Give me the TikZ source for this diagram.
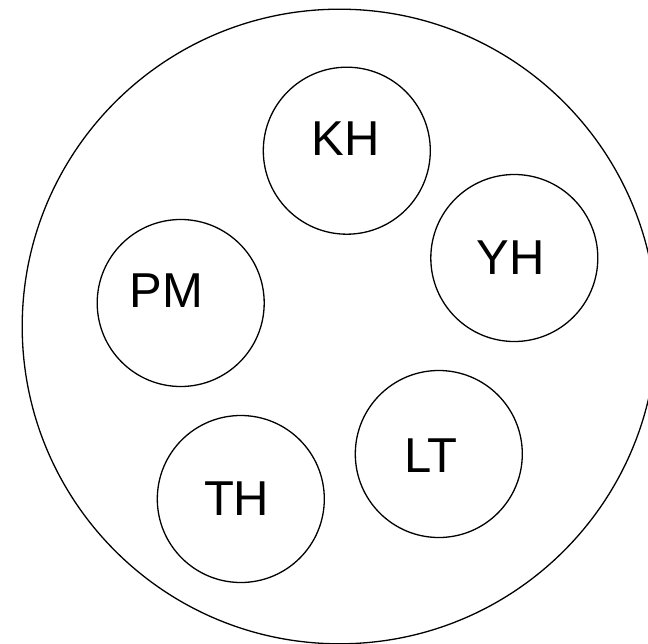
\documentclass[tikz,border=0pt]{standalone}
\usepackage{fontspec}
\setmainfont{Liberation Sans}
\begin{document}
\begin{tikzpicture}[x=1bp,y=-1bp,
  ring/.style={circle,draw,line width=1.3bp,minimum size=167bp,inner sep=0pt},
  bigring/.style={circle,draw,line width=1.3bp,minimum size=634.6bp,inner sep=0pt},
  lbl/.style={inner sep=0pt,font=\fontsize{49bp}{55bp}\selectfont}]
\useasboundingbox (0,0) rectangle (648,644);
\clip (0,0) rectangle (648,644);
\node[bigring] (outer) at (339.5,326.5) {};
\node[ring] (kh) at (346.8,150.7) {};
\node[ring] (yh) at (514.3,258) {};
\node[ring] (pm) at (180.7,303) {};
\node[ring] (th) at (240.8,499) {};
\node[ring] (lt) at (438.8,454) {};
\node[lbl] (khl) at (345.5,138.3) {KH};
\node[lbl] (yhl) at (510.5,258) {YH};
\node[lbl] (pml) at (166.3,290.2) {PM};
\node[lbl] (thl) at (236.7,498.8) {TH};
\node[lbl] (ltl) at (430.8,455.8) {LT};
\end{tikzpicture}
\end{document}
